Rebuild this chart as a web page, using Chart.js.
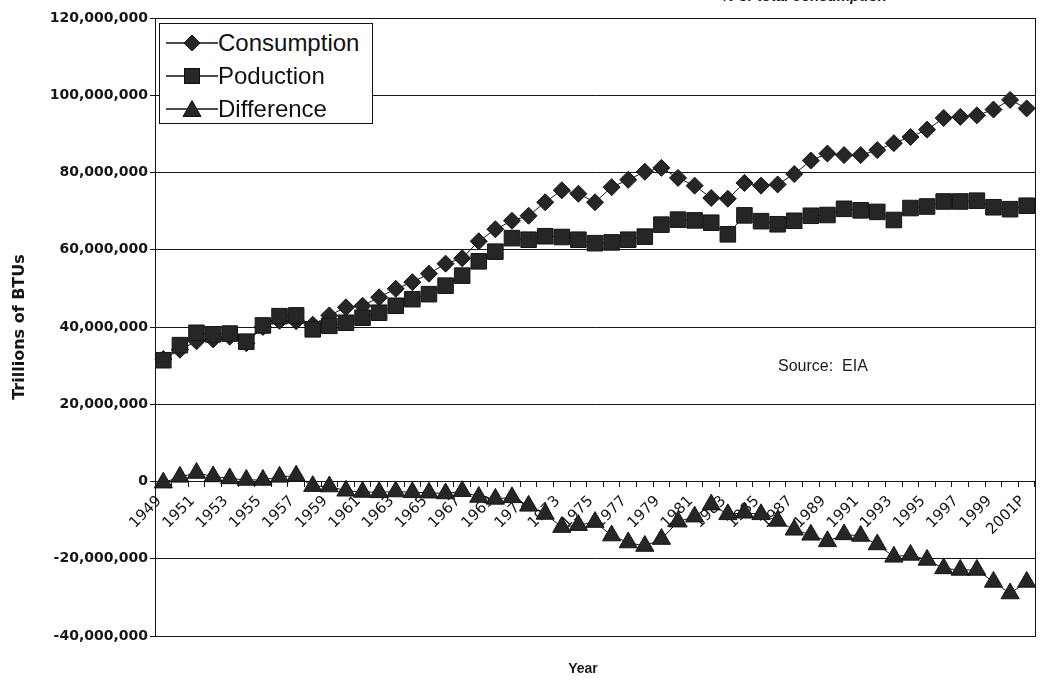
<!DOCTYPE html>
<html>
<head>
<meta charset="utf-8">
<title>Energy consumption and production</title>
<script src="https://cdn.jsdelivr.net/npm/chart.js@4.4.1/dist/chart.umd.min.js"></script>
<style>
  html, body { margin: 0; padding: 0; background: #fff; }
  #wrap { position: relative; width: 1040px; height: 680px; overflow: hidden; }
  #energyChart { position: absolute; left: 0; top: 0; }
  .cut-title {
    position: absolute; top: -13px; right: 153px;
    font: italic bold 15px "Liberation Sans", Arial, sans-serif; line-height: 18px;
    color: #1a1a1a; white-space: nowrap;
  }
  .legend {
    position: absolute; left: 159px; top: 23px; width: 214px; height: 101px;
    box-sizing: border-box; border: 1px solid #111; background: #fff;
  }
  .legend .row {
    position: absolute; left: 0; height: 33px; display: flex; align-items: center;
    font: 24px "Liberation Sans", Arial, sans-serif; color: #111;
  }
  .legend svg { margin-left: 6px; margin-right: 0; }
  .note {
    position: absolute; left: 778px; top: 357px;
    font: 16px "Liberation Sans", Arial, sans-serif; line-height: 18px; color: #1a1a1a;
    white-space: pre;
  }
  .xtitle {
    position: absolute; left: 553px; width: 60px; top: 660px; text-align: center;
    font: bold 14px "Liberation Sans", Arial, sans-serif; line-height: 16px; color: #1a1a1a;
  }
</style>
</head>
<body>
<div id="wrap">
  <canvas id="energyChart" width="1040" height="680"></canvas>
  <div class="cut-title">% of total consumption</div>
  <div class="legend">
    <div class="row" style="top:2px">
      <svg width="52" height="20"><line x1="0" y1="10" x2="52" y2="10" stroke="#111" stroke-width="1.5"/><polygon points="26,2 34,10 26,18 18,10" fill="#262626" stroke="#111"/></svg>Consumption
    </div>
    <div class="row" style="top:35px">
      <svg width="52" height="20"><line x1="0" y1="10" x2="52" y2="10" stroke="#111" stroke-width="1.5"/><rect x="18.5" y="2.5" width="15" height="15" fill="#262626" stroke="#111"/></svg>Poduction
    </div>
    <div class="row" style="top:68px">
      <svg width="52" height="20"><line x1="0" y1="10" x2="52" y2="10" stroke="#111" stroke-width="1.5"/><polygon points="26,1.5 35,17.5 17,17.5" fill="#262626" stroke="#111"/></svg>Difference
    </div>
  </div>
  <div class="note">Source:  EIA</div>
  <div class="xtitle">Year</div>
</div>
<script>
// values in millions (the axis shows them as full numbers)
const years = [
  "1949", "1950", "1951", "1952", "1953", "1954", "1955", "1956", "1957", "1958",
  "1959", "1960", "1961", "1962", "1963", "1964", "1965", "1966", "1967", "1968",
  "1969", "1970", "1971", "1972", "1973", "1974", "1975", "1976", "1977", "1978",
  "1979", "1980", "1981", "1982", "1983", "1984", "1985", "1986", "1987", "1988",
  "1989", "1990", "1991", "1992", "1993", "1994", "1995", "1996", "1997", "1998",
  "1999", "2000", "2001P"
];

const consumption = [
  31.7, 34.1, 36.3, 36.8, 37.5, 35.8, 40.0, 41.6, 41.5, 40.6,
  43.0, 45.1, 45.5, 47.7, 49.9, 51.6, 53.8, 56.4, 57.8, 62.2,
  65.3, 67.5, 68.8, 72.3, 75.4, 74.5, 72.3, 76.2, 78.1, 80.2,
  81.2, 78.6, 76.6, 73.4, 73.2, 77.3, 76.6, 76.9, 79.6, 83.1,
  84.9, 84.5, 84.5, 85.8, 87.6, 89.2, 91.1, 94.1, 94.4, 94.8,
  96.3, 98.8, 96.6
];

const production = [
  31.4, 35.3, 38.5, 38.1, 38.3, 36.2, 40.4, 42.8, 43.0, 39.4,
  40.3, 41.1, 42.4, 43.7, 45.5, 47.2, 48.5, 50.7, 53.3, 57.0,
  59.5, 63.0, 62.6, 63.5, 63.3, 62.6, 61.7, 61.9, 62.6, 63.4,
  66.5, 67.8, 67.6, 67.0, 64.0, 68.9, 67.4, 66.6, 67.5, 68.8,
  69.0, 70.6, 70.2, 69.8, 67.7, 70.8, 71.2, 72.5, 72.5, 72.7,
  71.0, 70.5, 71.4
];

const difference = [
  -0.3, 1.2, 2.2, 1.3, 0.8, 0.4, 0.4, 1.2, 1.5, -1.2,
  -1.3, -2.4, -2.7, -2.8, -2.6, -2.8, -2.9, -3.1, -2.5, -4.0,
  -4.5, -4.1, -6.3, -8.4, -11.8, -11.3, -10.5, -14.0, -15.8, -16.7,
  -14.9, -10.4, -9.1, -6.0, -8.5, -8.1, -8.5, -10.2, -12.5, -13.8,
  -15.5, -13.7, -14.1, -16.3, -19.5, -19.0, -20.3, -22.5, -22.9, -22.9,
  -26.0, -29.0, -26.0
];

const yTickValues = [-40, -20, 0, 20, 40, 60, 80, 100, 120];

const ink = "#151515";
const markFill = "#262626";

// outline round the plot area
const plotFrame = {
  id: "plotFrame",
  afterDraw(chart) {
    const { ctx, chartArea: a } = chart;
    ctx.save();
    ctx.strokeStyle = ink;
    ctx.lineWidth = 1;
    ctx.strokeRect(Math.round(a.left) + 0.5, Math.round(a.top) + 0.5,
      Math.round(a.right - a.left), Math.round(a.bottom - a.top));
    ctx.restore();
  }
};

function series(label, data, style, radius, order) {
  return {
    label, data, order,
    borderColor: ink,
    borderWidth: 1,
    tension: 0,
    pointStyle: style,
    pointRadius: radius,
    pointBackgroundColor: markFill,
    pointBorderColor: ink,
    pointBorderWidth: 1
  };
}

new Chart(document.getElementById("energyChart"), {
  type: "line",
  data: {
    labels: years,
    datasets: [
      series("Consumption", consumption, "rectRot", 8.5, 2),
      series("Poduction", production, "rect", 11, 1),
      series("Difference", difference, "triangle", 10.5, 0)
    ]
  },
  options: {
    responsive: false,
    animation: false,
    layout: { autoPadding: false, padding: { top: 18, right: 5, bottom: 44, left: 0 } },
    plugins: { legend: { display: false }, tooltip: { enabled: false } },
    scales: {
      x: {
        type: "category",
        position: { y: 0 },
        offset: true,
        // rotated labels should not push the plot in from the right
        afterFit: (s) => { s.paddingRight = 0; s.paddingLeft = 0; },
        grid: { offset: true, drawOnChartArea: false, drawTicks: true, tickLength: 5, color: ink },
        border: { display: true, color: ink },
        ticks: {
          autoSkip: false,
          minRotation: 45,
          maxRotation: 45,
          padding: 6,
          labelOffset: -4,
          color: ink,
          font: { family: "'DejaVu Sans', sans-serif", size: 15 },
          callback: function (v, i) { return i % 2 === 0 ? this.getLabelForValue(v) : ""; }
        }
      },
      y: {
        min: -40,
        max: 120,
        afterBuildTicks: (s) => { s.ticks = yTickValues.map((v) => ({ value: v })); },
        afterFit: (s) => { s.width = 155; },
        grid: { color: ink, lineWidth: 1, tickLength: 5 },
        border: { color: ink },
        ticks: {
          padding: 2,
          color: ink,
          font: { family: "'DejaVu Sans', sans-serif", size: 14, weight: "bold" },
          callback: (v) => (v * 1000000).toLocaleString("en-US")
        },
        title: {
          display: true,
          text: "Trillions of BTUs",
          color: ink,
          padding: { top: 10, bottom: 0 },
          font: { family: "'DejaVu Sans', sans-serif", size: 16, weight: "bold" }
        }
      }
    }
  },
  plugins: [plotFrame]
});
</script>
</body>
</html>
